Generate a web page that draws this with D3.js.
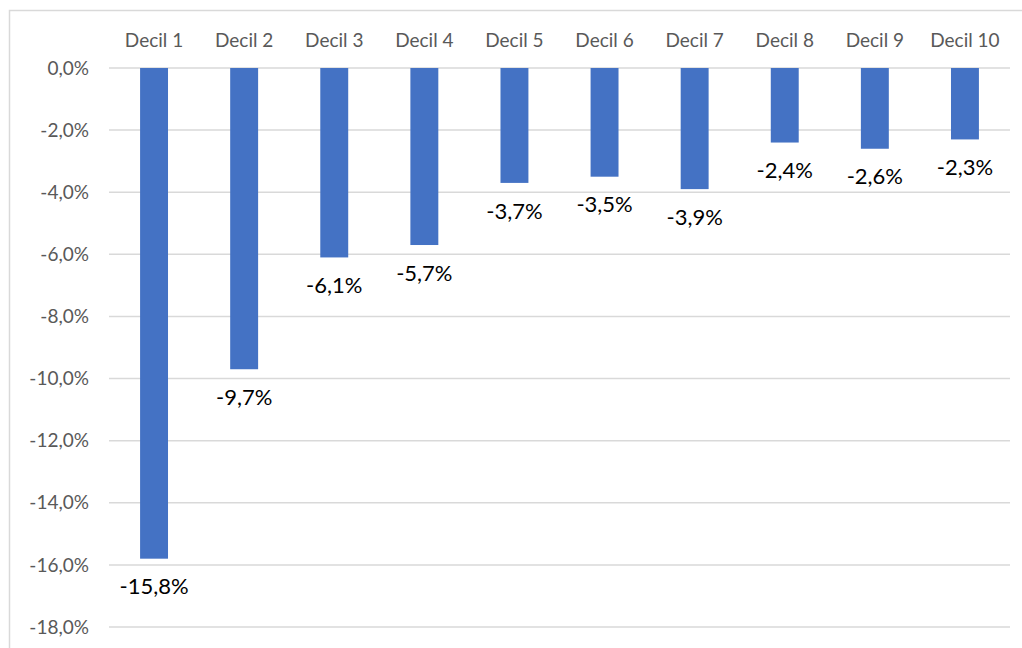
<!doctype html>
<html>
  <head>
    <meta charset="utf-8">
    <title>Decil chart</title>
    <script src="https://cdnjs.cloudflare.com/ajax/libs/d3/7.8.5/d3.min.js"></script>
    <style>
      body { margin: 0; background: #fff; }
      text { font-family: Lato, "Open Sans", sans-serif; }
    </style>
  </head>
  <body>
    <div id="chart"></div>
    <script>
      // data
      const deciles = ['Decil 1', 'Decil 2', 'Decil 3', 'Decil 4', 'Decil 5',
                       'Decil 6', 'Decil 7', 'Decil 8', 'Decil 9', 'Decil 10'];
      const changes = [-15.8, -9.7, -6.1, -5.7, -3.7, -3.5, -3.9, -2.4, -2.6, -2.3];
      const yTicks = [0, -2, -4, -6, -8, -10, -12, -14, -16, -18];

      const width = 1022, height = 648;
      const plot = { left: 109, right: 1010, top: 68, bottom: 627 };

      const fmt = v => v.toFixed(1).replace('.', ',') + '%';

      const svg = d3.select('#chart')
        .append('svg')
        .attr('width', width)
        .attr('height', height);

      // outer frame (only top and left edges are in view)
      svg.append('rect')
        .attr('x', 9.5).attr('y', 10.5)
        .attr('width', 1100).attr('height', 700)
        .attr('fill', 'none')
        .attr('stroke', '#d9d9d9')
        .attr('stroke-width', 1.5);

      const x = d3.scaleBand()
        .domain(deciles)
        .range([plot.left, plot.right])
        .paddingInner(0.69)
        .paddingOuter(0.345);

      const y = d3.scaleLinear()
        .domain([0, -18])
        .range([plot.top, plot.bottom]);

      // gridlines
      svg.append('g')
        .selectAll('line')
        .data(yTicks)
        .join('line')
        .attr('x1', plot.left).attr('x2', plot.right)
        .attr('y1', d => y(d)).attr('y2', d => y(d))
        .attr('stroke', '#d9d9d9')
        .attr('stroke-width', 1.5);

      // y tick labels
      svg.append('g')
        .selectAll('text')
        .data(yTicks)
        .join('text')
        .attr('x', 89)
        .attr('y', d => y(d))
        .attr('dy', '0.35em')
        .attr('text-anchor', 'end')
        .attr('fill', '#595959')
        .style('font-size', '19px')
        .text(fmt);

      // category labels on top
      svg.append('g')
        .selectAll('text')
        .data(deciles)
        .join('text')
        .attr('x', d => x(d) + x.bandwidth() / 2)
        .attr('y', 40)
        .attr('dy', '0.35em')
        .attr('text-anchor', 'middle')
        .attr('fill', '#595959')
        .style('font-size', '19px')
        .text(d => d);

      // bars
      svg.append('g')
        .selectAll('rect')
        .data(changes)
        .join('rect')
        .attr('x', (d, i) => x(deciles[i]))
        .attr('y', y(0))
        .attr('width', x.bandwidth())
        .attr('height', d => y(d) - y(0))
        .attr('fill', '#4472c4');

      // value labels under each bar
      svg.append('g')
        .selectAll('text')
        .data(changes)
        .join('text')
        .attr('x', (d, i) => x(deciles[i]) + x.bandwidth() / 2)
        .attr('y', d => y(d) + 28)
        .attr('dy', '0.35em')
        .attr('text-anchor', 'middle')
        .attr('fill', '#000')
        .style('font-size', '22px')
        .text(fmt);
    </script>
  </body>
</html>
